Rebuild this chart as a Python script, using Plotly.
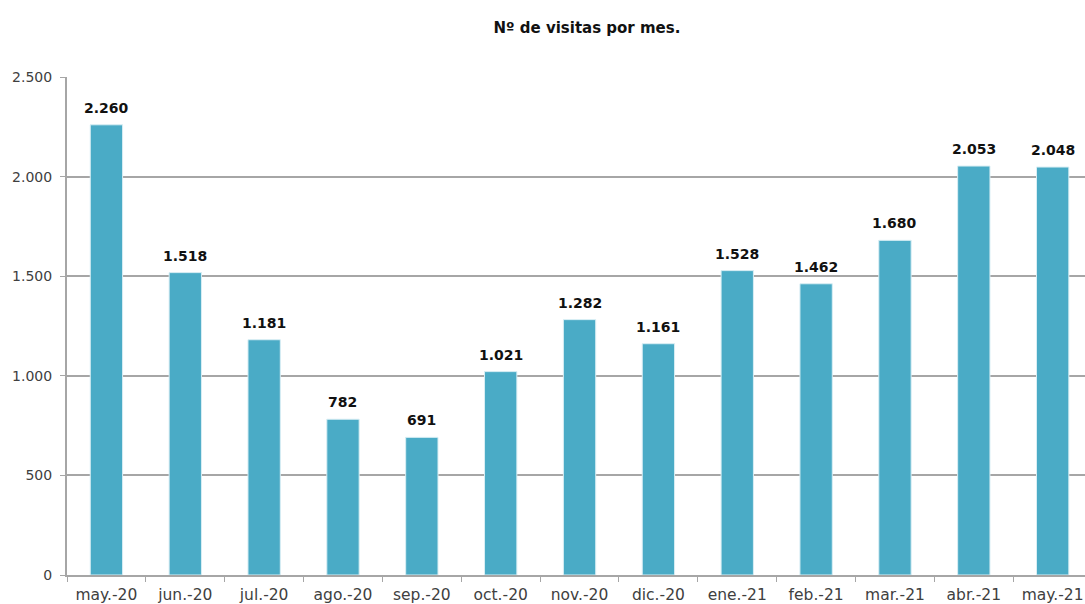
import plotly.graph_objects as go

months = ["may.-20", "jun.-20", "jul.-20", "ago.-20", "sep.-20", "oct.-20", "nov.-20",
          "dic.-20", "ene.-21", "feb.-21", "mar.-21", "abr.-21", "may.-21"]
visits = [2260, 1518, 1181, 782, 691, 1021, 1282, 1161, 1528, 1462, 1680, 2053, 2048]
y_ticks = [0, 500, 1000, 1500, 2000, 2500]

FONT = "'DejaVu Sans', sans-serif"

fig = go.Figure(go.Bar(
    x=months, y=visits,
    marker=dict(color="#4AABC6", line=dict(color="#D9EEF4", width=1)),
    width=0.41,
))

for m, v in zip(months, visits):
    fig.add_annotation(
        x=m, y=v, text=f"{v:,}".replace(",", "."), showarrow=False,
        yanchor="middle", yshift=17,
        font=dict(family=FONT, size=14, color="#111111", weight="bold"),
    )

fig.update_layout(
    width=1085, height=604,
    margin=dict(l=67, r=0, t=77, b=29),
    paper_bgcolor="white", plot_bgcolor="white",
    separators=",.",
    showlegend=False,
    title=dict(text="<b>Nº de visitas por mes.</b>", x=0.541, xref="container", xanchor="center",
               y=1 - 28 / 604, yref="container", yanchor="middle",
               font=dict(family=FONT, size=15, color="#111111")),
    font=dict(family=FONT, size=14, color="#404040"),
)
fig.update_xaxes(
    type="category", range=[-0.5, 12.41],
    showline=True, linecolor="#A6A6A6", linewidth=2,
    ticks="outside", tickson="boundaries", ticklen=5, tickcolor="#A6A6A6", tickwidth=1,
    ticklabelstandoff=4,
    showgrid=False, tickfont=dict(family=FONT, size=15.5, color="#404040"),
)
fig.update_yaxes(
    range=[0, 2500], tickvals=y_ticks, tickformat=",",
    showline=True, linecolor="#A6A6A6", linewidth=2,
    ticks="outside", ticklen=5, tickcolor="#A6A6A6",
    ticklabelstandoff=5,
    showgrid=True, gridcolor="#A6A6A6", gridwidth=1.5, zeroline=False,
    tickfont=dict(family=FONT, size=14, color="#404040"),
)

fig.write_html("out.html", post_script="document.body.style.margin='0';",
               config={"displayModeBar": False})
